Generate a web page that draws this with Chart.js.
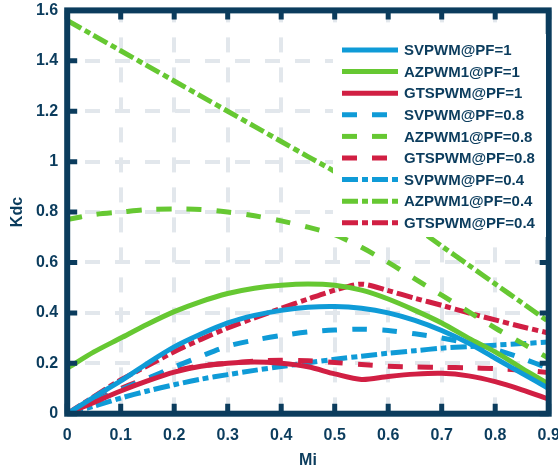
<!DOCTYPE html>
<html lang="en">
<head>
<meta charset="UTF-8">
<title>Kdc vs Mi</title>
<style>
  html, body { margin: 0; padding: 0; background: #fff; overflow: hidden; }
  #wrap { width: 558px; height: 473px; position: relative; }
</style>
<script src="https://cdn.jsdelivr.net/npm/chart.js"></script>
</head>
<body>
<div id="wrap"><canvas id="kdcChart"></canvas></div>
<script>
// modulation index (x axis)
const mi = [0, 0.05, 0.1, 0.15, 0.2, 0.25, 0.3, 0.35, 0.4, 0.45, 0.5, 0.55, 0.6, 0.65, 0.7, 0.75, 0.8, 0.85, 0.9];

// PF = 1
const svpwmPF1  = [0, 0.066, 0.13, 0.2, 0.265, 0.316, 0.36, 0.39, 0.41, 0.422, 0.425, 0.418, 0.4, 0.37, 0.33, 0.28, 0.22, 0.16, 0.1];
const azpwmPF1  = [0.18, 0.245, 0.3, 0.355, 0.405, 0.445, 0.477, 0.498, 0.51, 0.515, 0.51, 0.49, 0.455, 0.41, 0.36, 0.3, 0.245, 0.18, 0.118];
const gtspwmPF1 = [0, 0.045, 0.09, 0.13, 0.165, 0.188, 0.2, 0.205, 0.2, 0.186, 0.158, 0.136, 0.148, 0.157, 0.16, 0.15, 0.127, 0.095, 0.058];

// PF = 0.8
const svpwmPF08  = [0, 0.048, 0.095, 0.14, 0.185, 0.228, 0.268, 0.292, 0.31, 0.324, 0.332, 0.335, 0.33, 0.317, 0.3, 0.28, 0.255, 0.22, 0.18];
const azpwmPF08  = [0.77, 0.79, 0.8, 0.81, 0.812, 0.81, 0.8, 0.785, 0.765, 0.74, 0.71, 0.66, 0.6, 0.535, 0.47, 0.405, 0.34, 0.28, 0.22];
const gtspwmPF08 = [0, 0.05, 0.1, 0.14, 0.17, 0.19, 0.2, 0.208, 0.212, 0.21, 0.203, 0.195, 0.188, 0.185, 0.184, 0.182, 0.179, 0.173, 0.163];

// PF = 0.4
const svpwmPF04  = [0, 0.03, 0.062, 0.09, 0.115, 0.137, 0.155, 0.172, 0.187, 0.202, 0.216, 0.228, 0.24, 0.25, 0.26, 0.266, 0.272, 0.278, 0.284];
const azpwmPF04  = [1.56, 1.5, 1.44, 1.38, 1.32, 1.26, 1.2, 1.14, 1.08, 1.02, 0.96, 0.885, 0.81, 0.74, 0.665, 0.59, 0.515, 0.44, 0.365];
const gtspwmPF04 = [0, 0.068, 0.134, 0.19, 0.246, 0.295, 0.34, 0.38, 0.418, 0.455, 0.49, 0.514, 0.488, 0.458, 0.43, 0.4, 0.372, 0.345, 0.32];

const navy = '#0b3c5d';
const blue = '#0f9bd7';
const green = '#66c832';
const red = '#d11f43';
const dashed = [15, 15];
const dashDot = [16, 4, 6, 4];

function series(label, values, color, dash) {
    return {
        label: label,
        data: mi.map((m, i) => ({ x: m, y: values[i] })),
        borderColor: color,
        backgroundColor: color,
        borderWidth: 5,
        borderDash: dash,
        pointRadius: 0,
        fill: false,
        tension: 0.3
    };
}

const datasets = [
    series('SVPWM@PF=1', svpwmPF1, blue, []),
    series('AZPWM1@PF=1', azpwmPF1, green, []),
    series('GTSPWM@PF=1', gtspwmPF1, red, []),
    series('SVPWM@PF=0.8', svpwmPF08, blue, dashed),
    series('AZPWM1@PF=0.8', azpwmPF08, green, dashed),
    series('GTSPWM@PF=0.8', gtspwmPF08, red, dashed),
    series('SVPWM@PF=0.4', svpwmPF04, blue, dashDot),
    series('AZPWM1@PF=0.4', azpwmPF04, green, dashDot),
    series('GTSPWM@PF=0.4', gtspwmPF04, red, dashDot)
];

// thick box with inward ticks, then the legend sitting inside the plot
const framePlugin = {
    id: 'frameAndLegend',
    afterDraw(chart) {
        const ctx = chart.ctx;
        const a = chart.chartArea;
        const xs = chart.scales.x, ys = chart.scales.y;
        ctx.save();
        ctx.strokeStyle = navy;
        ctx.lineWidth = 6;
        ctx.setLineDash([]);
        ctx.strokeRect(a.left, a.top, a.right - a.left, a.bottom - a.top);
        ctx.lineWidth = 5;
        ctx.beginPath();
        xs.ticks.forEach(t => {
            const px = xs.getPixelForValue(t.value);
            ctx.moveTo(px, a.bottom); ctx.lineTo(px, a.bottom - 10);
            ctx.moveTo(px, a.top); ctx.lineTo(px, a.top + 9);
        });
        ys.ticks.forEach(t => {
            const py = ys.getPixelForValue(t.value);
            ctx.moveTo(a.left, py); ctx.lineTo(a.left + 10, py);
            ctx.moveTo(a.right, py); ctx.lineTo(a.right - 9, py);
        });
        ctx.stroke();

        // legend
        ctx.fillStyle = '#ffffff';
        ctx.fillRect(333, 34, 213, 203);
        ctx.font = 'bold 15px "Liberation Sans", Arial, sans-serif';
        ctx.textBaseline = 'middle';
        ctx.textAlign = 'left';
        chart.data.datasets.forEach((ds, i) => {
            const yy = 50 + i * 21.6;
            ctx.strokeStyle = ds.borderColor;
            ctx.lineWidth = 5;
            ctx.lineCap = 'butt';
            ctx.setLineDash(ds.borderDash || []);
            ctx.beginPath();
            ctx.moveTo(342, yy);
            ctx.lineTo(398, yy);
            ctx.stroke();
            ctx.setLineDash([]);
            ctx.fillStyle = navy;
            ctx.fillText(ds.label, 404, yy + 1);
        });
        ctx.restore();
    }
};

const tickFont = { family: '"Liberation Sans", Arial, sans-serif', size: 16, weight: 'bold' };
const plainNumber = v => String(Number(v.toFixed(2)));

new Chart(document.getElementById('kdcChart'), {
    type: 'line',
    data: { datasets: datasets },
    options: {
        responsive: true,
        maintainAspectRatio: false,
        animation: false,
        layout: { padding: { left: 0, top: 10.4, right: 9.3, bottom: 0 } },
        plugins: {
            legend: { display: false },
            tooltip: { enabled: false }
        },
        scales: {
            x: {
                type: 'linear',
                min: 0,
                max: 0.9,
                ticks: { stepSize: 0.1, color: navy, font: tickFont, padding: 12, maxRotation: 0, callback: plainNumber },
                grid: { color: '#e2e7ec', lineWidth: 4, drawTicks: false },
                border: { display: false, dash: [15, 15], dashOffset: 3 },
                title: { display: true, text: 'Mi', color: navy, font: tickFont, padding: { top: 0, bottom: 3 } },
                afterFit(scale) { scale.height = 59.3; scale.paddingLeft = 0; scale.paddingRight = 0; }
            },
            y: {
                min: 0,
                max: 1.6,
                ticks: { stepSize: 0.2, color: navy, font: tickFont, padding: 9, callback: plainNumber },
                grid: { color: '#e2e7ec', lineWidth: 4, drawTicks: false },
                border: { display: false, dash: [15, 15], dashOffset: 12 },
                title: { display: true, text: 'Kdc', color: navy, font: tickFont, padding: { top: 8, bottom: 0 } },
                afterFit(scale) { scale.width = 67.2; scale.paddingTop = 0; scale.paddingBottom = 0; }
            }
        }
    },
    plugins: [framePlugin]
});
</script>
</body>
</html>
